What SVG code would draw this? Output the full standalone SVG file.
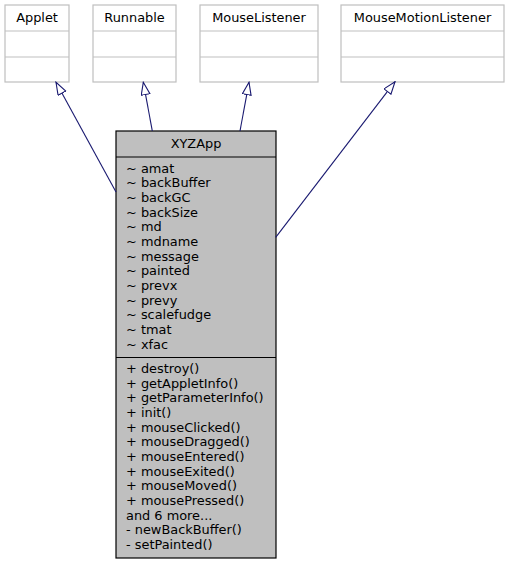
<svg xmlns="http://www.w3.org/2000/svg" width="509" height="565" viewBox="0 0 509 565">
<style>
text{font-family:"DejaVu Sans","Liberation Sans",sans-serif;font-size:12.9px;fill:#000}
.t{text-anchor:middle}
.ext rect{fill:#fff;stroke:#bfbfbf;stroke-width:1.2}
.ext line{stroke:#bfbfbf;stroke-width:1.2}
.main rect{fill:#bfbfbf;stroke:#000;stroke-width:1.2}
.main line{stroke:#000;stroke-width:1.2}
.edge{stroke:#191970;stroke-width:1.1;fill:none;marker-end:url(#arr)}
</style>
<defs>
<marker id="arr" markerUnits="userSpaceOnUse" viewBox="0 0 14 10" markerWidth="14" markerHeight="10" refX="13" refY="4.7" orient="auto">
<path d="M0.6,0.3 L13,4.7 L0.6,9.1 Z" fill="#fff" stroke="#191970" stroke-width="1.1"/>
</marker>
</defs>
<rect width="509" height="565" fill="#fff"/>
<g id="Applet" class="ext">
<rect x="5" y="5" width="64" height="77"/>
<line x1="5" y1="31" x2="69" y2="31"/>
<line x1="5" y1="57" x2="69" y2="57"/>
<text class="t" x="37" y="22">Applet</text>
</g>
<g id="Runnable" class="ext">
<rect x="93" y="5" width="83" height="77"/>
<line x1="93" y1="31" x2="176" y2="31"/>
<line x1="93" y1="57" x2="176" y2="57"/>
<text class="t" x="134.5" y="22">Runnable</text>
</g>
<g id="MouseListener" class="ext">
<rect x="200" y="5" width="118" height="77"/>
<line x1="200" y1="31" x2="318" y2="31"/>
<line x1="200" y1="57" x2="318" y2="57"/>
<text class="t" x="259" y="22">MouseListener</text>
</g>
<g id="MouseMotionListener" class="ext">
<rect x="341" y="5" width="163" height="77"/>
<line x1="341" y1="31" x2="504" y2="31"/>
<line x1="341" y1="57" x2="504" y2="57"/>
<text class="t" x="422.5" y="22">MouseMotionListener</text>
</g>
<g id="XYZApp" class="main">
<rect x="116" y="131" width="160" height="427"/>
<line x1="116" y1="157" x2="276" y2="157"/>
<line x1="116" y1="357.5" x2="276" y2="357.5"/>
<text class="t" x="196" y="147.5">XYZApp</text>
<text x="126" y="172.5">~ amat</text>
<text x="126" y="187.2">~ backBuffer</text>
<text x="126" y="201.8">~ backGC</text>
<text x="126" y="216.5">~ backSize</text>
<text x="126" y="231.2">~ md</text>
<text x="126" y="245.8">~ mdname</text>
<text x="126" y="260.5">~ message</text>
<text x="126" y="275.2">~ painted</text>
<text x="126" y="289.8">~ prevx</text>
<text x="126" y="304.5">~ prevy</text>
<text x="126" y="319.2">~ scalefudge</text>
<text x="126" y="333.8">~ tmat</text>
<text x="126" y="348.5">~ xfac</text>
<text x="126" y="373">+ destroy()</text>
<text x="126" y="387.7">+ getAppletInfo()</text>
<text x="126" y="402.3">+ getParameterInfo()</text>
<text x="126" y="417">+ init()</text>
<text x="126" y="431.7">+ mouseClicked()</text>
<text x="126" y="446.3">+ mouseDragged()</text>
<text x="126" y="461">+ mouseEntered()</text>
<text x="126" y="475.7">+ mouseExited()</text>
<text x="126" y="490.3">+ mouseMoved()</text>
<text x="126" y="505">+ mousePressed()</text>
<text x="126" y="519.7">and 6 more...</text>
<text x="126" y="534.3">- newBackBuffer()</text>
<text x="126" y="549">- setPainted()</text>
</g>
<g id="connectors">
<path class="edge" d="M116,192 L56,82.3"/>
<path class="edge" d="M152.3,131 L143.3,82.3"/>
<path class="edge" d="M240,131 L249,82.3"/>
<path class="edge" d="M275.7,237.3 L395,81.7"/>
</g>
</svg>
